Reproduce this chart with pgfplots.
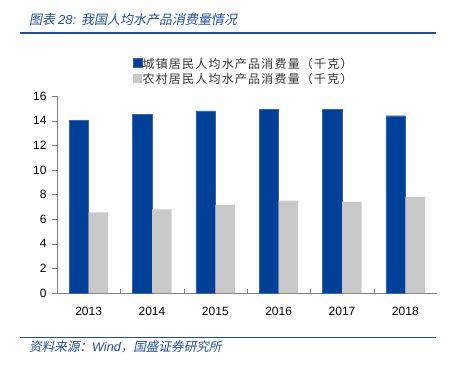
\documentclass[border=0pt]{standalone}
\usepackage{fontspec}
\setmainfont{Liberation Sans}
\newfontfamily\cjk{Noto Sans CJK SC}
\newfontfamily\cjksp[LetterSpace=10]{Noto Sans CJK SC}
\newfontfamily\cjkit[FakeSlant=0.2]{Noto Sans CJK SC}
\usepackage{pgfplots}
\pgfplotsset{compat=1.18}
\definecolor{barblue}{RGB}{0,64,152}
\definecolor{bargray}{RGB}{201,201,201}
\definecolor{hdrblue}{RGB}{32,78,160}
\definecolor{axisgray}{RGB}{128,128,128}
\begin{document}
\begin{tikzpicture}[x=1pt,y=1pt]
\path (0,0) rectangle (454,368);
\draw[hdrblue, line width=1.3pt] (20,335) -- (436,335);
\node[anchor=west, text=hdrblue, inner sep=0pt, font=\fontsize{13}{15}\selectfont] at (29,348) {{\cjkit 图表 }{\itshape 28: }{\cjkit 我国人均水产品消费量情况}};
\draw[hdrblue, line width=1.3pt] (20,30.3) -- (436,30.3);
\node[anchor=west, text=hdrblue, inner sep=0pt, font=\fontsize{12.6}{14}\selectfont] at (29,21) {{\cjkit 资料来源：}{\itshape Wind}{\cjkit ，国盛证券研究所}};
\begin{axis}[
  at={(57pt,75pt)}, anchor=south west,
  scale only axis, width=380pt, height=197pt,
  ymin=0, ymax=16, ytick={0,2,...,16},
  xmin=-0.5, xmax=5.5, enlargelimits=false,
  xtick={0,...,5},
  xticklabels={2013,2014,2015,2016,2017,2018},
  xtick style={draw=none},
  extra x ticks={0.5,1.5,2.5,3.5,4.5},
  extra x tick labels={},
  extra x tick style={tick align=inside, major tick length=4pt, xtick style={draw=axisgray}},
  ytick style={draw=axisgray},
  tick align=outside, major tick length=5pt,
  axis x line*=bottom, axis y line*=left,
  axis line style={draw=axisgray, -},
  ybar=0pt, bar width=19.5pt,
  tick label style={font=\fontsize{12}{14}\selectfont, text=black},
  /pgf/number format/assume math mode=true,
  xticklabel style={yshift=-6pt},
  yticklabel style={xshift=-2pt},
  legend style={at={(0.2,1.195)}, anchor=north west, draw=none, fill=none,
    inner sep=0pt, row sep=3.8pt, nodes={inner sep=0pt},
    font=\cjksp\fontsize{12}{14}\selectfont, text=black!80,
    legend cell align=left},
  legend image code/.code={\fill[#1] (0pt,-4pt) rectangle (9pt,5pt);},
]
\addplot[fill=barblue, draw=barblue!80!white] coordinates {(0,14.05) (1,14.5) (2,14.8) (3,14.9) (4,14.9) (5,14.4)};
\addplot[fill=bargray, draw=none] coordinates {(0,6.55) (1,6.8) (2,7.15) (3,7.5) (4,7.4) (5,7.8)};
\legend{城镇居民人均水产品消费量（千克）, 农村居民人均水产品消费量（千克）}
\end{axis}
\end{tikzpicture}
\end{document}
